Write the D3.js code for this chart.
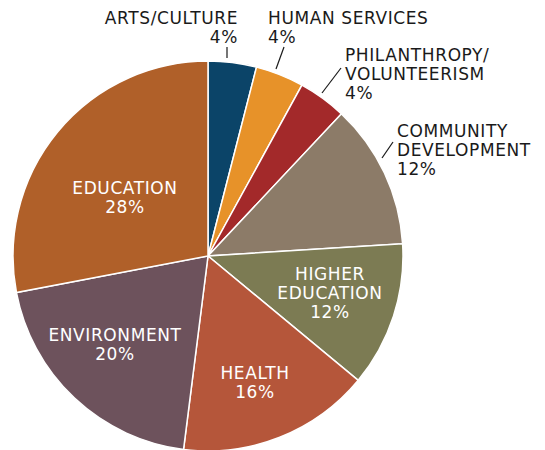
<!DOCTYPE html>
<html>
<head>
<meta charset="utf-8">
<script src="https://cdn.jsdelivr.net/npm/d3@7"></script>
<style>
  body { margin: 0; background: #fff; }
  text { font-family: "DejaVu Sans", sans-serif; font-size: 17px; letter-spacing: 0.6px; }
</style>
</head>
<body>
<div id="pieChart"></div>
<script>
const categories = ["ARTS/CULTURE", "HUMAN SERVICES", "PHILANTHROPY/\nVOLUNTEERISM", "COMMUNITY\nDEVELOPMENT",
  "HIGHER\nEDUCATION", "HEALTH", "ENVIRONMENT", "EDUCATION"];
const shares = [4, 4, 4, 12, 12, 16, 20, 28];
const colors = ["#0b4468", "#e79229", "#a3292a", "#8c7b68", "#7c7b53", "#b5563a", "#6d525c", "#b06029"];

const outerWidth = 545;
const outerHeight = 450;
const radius = 195;
const cx = 208;
const cy = 256;

// label layout: x, first baseline, anchor, inside the slice or not, leader line
const labelLayout = [
  { x: 238, y: 24, anchor: "end", inside: false, leader: [227, 47, 227, 58] },
  { x: 268, y: 24, anchor: "start", inside: false, leader: [284, 47, 276, 69] },
  { x: 345, y: 61, anchor: "start", inside: false, leader: [341, 68, 322, 93] },
  { x: 397, y: 137, anchor: "start", inside: false, leader: [393, 142, 382, 158] },
  { x: 330, y: 280, anchor: "middle", inside: true },
  { x: 255, y: 379, anchor: "middle", inside: true },
  { x: 115, y: 341, anchor: "middle", inside: true },
  { x: 125, y: 194, anchor: "middle", inside: true }
];

const SVG = d3.select("#pieChart")
  .append("svg")
  .attr("width", outerWidth)
  .attr("height", outerHeight);

const pieGroup = SVG.append("g")
  .attr("transform", "translate(" + cx + "," + cy + ")");

const pie = d3.pie().sort(null).value(function(d) { return d; });
const arcGenerator = d3.arc().innerRadius(0).outerRadius(radius);

pieGroup.selectAll("path")
  .data(pie(shares))
  .enter()
  .append("path")
  .attr("d", arcGenerator)
  .attr("fill", function(d, i) { return colors[i]; })
  .attr("stroke", "#fff")
  .attr("stroke-width", 1.5);

const labelGroup = SVG.append("g");

categories.forEach(function(name, i) {
  const lay = labelLayout[i];
  const lines = name.split("\n").concat([shares[i] + "%"]);
  lines.forEach(function(line, j) {
    labelGroup.append("text")
      .attr("text-anchor", lay.anchor)
      .attr("fill", lay.inside ? "#fff" : "#1a1a1a")
      .attr("x", lay.x)
      .attr("y", lay.y + j * 19)
      .text(line);
  });
  if (lay.leader) {
    labelGroup.append("line")
      .attr("x1", lay.leader[0]).attr("y1", lay.leader[1])
      .attr("x2", lay.leader[2]).attr("y2", lay.leader[3])
      .attr("stroke", "#1a1a1a")
      .attr("stroke-width", 1.2);
  }
});
</script>
</body>
</html>
